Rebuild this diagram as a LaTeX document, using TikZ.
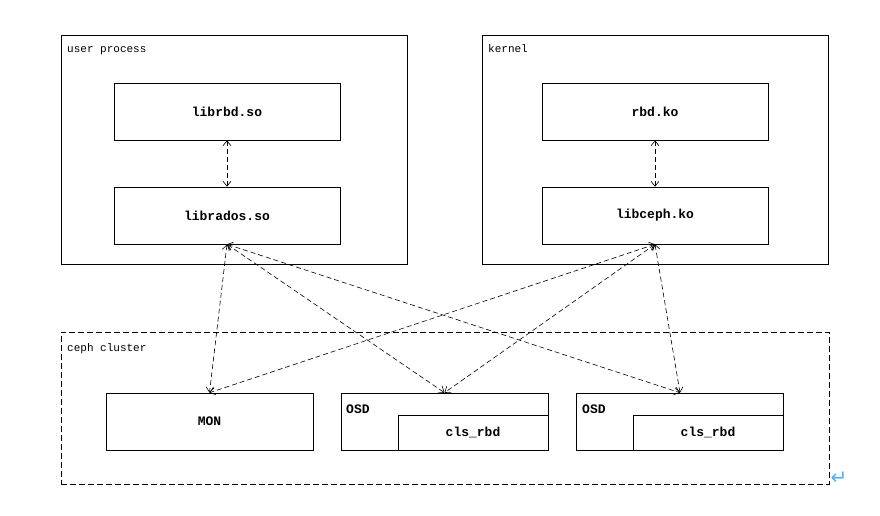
\documentclass[tikz,border=0pt]{standalone}
\usepackage{fontspec}
\setmonofont{Liberation Mono}
\newfontfamily\symfont{DejaVu Sans}
\usepackage{tikz}
\usetikzlibrary{arrows.meta, calc}

\tikzset{
    modbox/.style={draw, line width=0.6pt, minimum width=226pt, minimum height=57pt, inner sep=0pt,
        font=\ttfamily\bfseries\fontsize{13}{13}\selectfont},
    nodebox/.style={draw, line width=0.6pt, minimum width=207pt, minimum height=57pt, inner sep=0pt,
        font=\ttfamily\bfseries\fontsize{13}{13}\selectfont},
    groupbox/.style={draw, line width=0.6pt, minimum width=346pt, minimum height=229pt, inner sep=0pt},
    grouplabel/.style={anchor=base west, inner sep=0pt, font=\ttfamily\fontsize{11}{11}\selectfont},
    link/.style={<->, >={Straight Barb[length=5pt, width=8pt]}, dashed, dash pattern=on 5pt off 3pt, line width=0.6pt}
}

\begin{document}
\begin{tikzpicture}[x=1pt, y=-1pt]
                        \useasboundingbox (0, 0) rectangle (880, 516);

                        % user space and kernel
                        \node[groupbox] (user) at (234, 149.5) {};
                        \node[groupbox] (kernel) at (655, 149.5) {};
                        \node[grouplabel] (userlbl) at (67, 53) {user process};
                        \node[grouplabel] (kernellbl) at (488, 53) {kernel};

                        \node[modbox] (librbd) at (227, 111.5) {librbd.so};
                        \node[modbox] (librados) at (227, 215.5) {librados.so};
                        \node[modbox] (rbdko) at (655, 111.5) {rbd.ko};
                        \node[modbox] (libceph) at (655, 215.5) {libceph.ko};

                        % cluster
                        \node[draw, dashed, dash pattern=on 6pt off 3pt, line width=0.6pt,
                            minimum width=768pt, minimum height=152pt, inner sep=0pt] (cluster) at (445, 408) {};
                        \node[grouplabel] (clusterlbl) at (67, 351) {ceph cluster};

                        \node[nodebox] (mon) at (209.5, 421.5) {MON};
                        \node[nodebox] (osda) at (444.5, 421.5) {};
                        \node[nodebox] (osdb) at (680, 421.5) {};
                        \node[draw, line width=0.6pt, minimum width=150pt, minimum height=35pt, inner sep=0pt,
                            font=\ttfamily\bfseries\fontsize{13}{13}\selectfont] (clsa) at (473, 432.5) {cls\_rbd};
                        \node[draw, line width=0.6pt, minimum width=150pt, minimum height=35pt, inner sep=0pt,
                            font=\ttfamily\bfseries\fontsize{13}{13}\selectfont] (clsb) at (708, 432.5) {cls\_rbd};
                        \node[grouplabel, font=\ttfamily\bfseries\fontsize{13}{13}\selectfont] (osdalbl) at (346, 413) {OSD};
                        \node[grouplabel, font=\ttfamily\bfseries\fontsize{13}{13}\selectfont] (osdblbl) at (582, 413) {OSD};

                        \node[inner sep=0pt, text=blue!45!cyan!70, font=\symfont\fontsize{20}{20}\selectfont] (mark) at (839, 478) {↵};

                        \draw[link] (librbd) -- (librados);
                        \draw[link] (rbdko) -- (libceph);
                        \foreach \src in {librados, libceph}
                            \foreach \dst in {mon, osda, osdb}
                                \draw[link] (\src.south) -- (\dst.north);
                    \end{tikzpicture}
\end{document}
